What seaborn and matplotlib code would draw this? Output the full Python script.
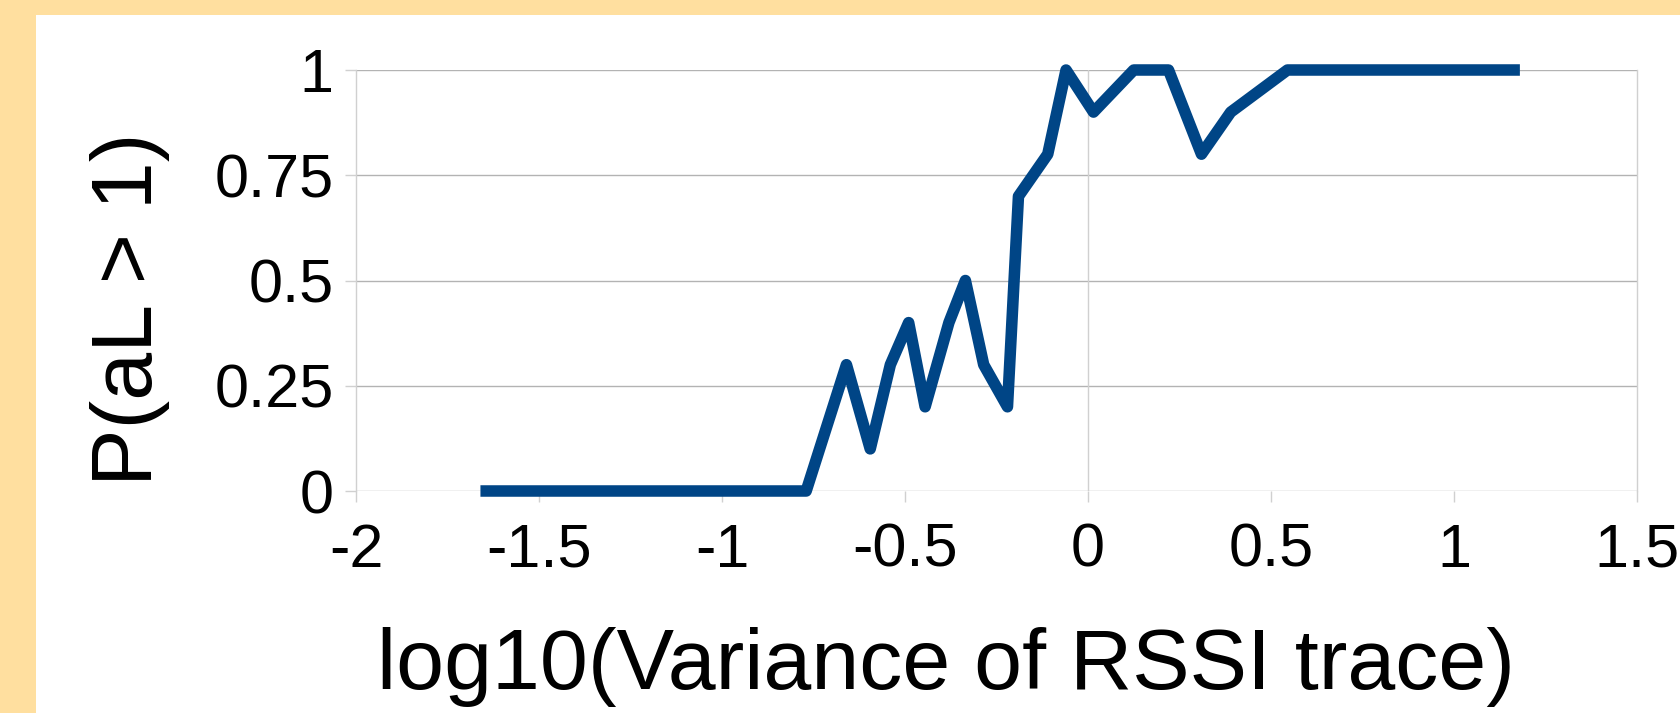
import matplotlib as mpl
mpl.use("Agg")
import matplotlib.pyplot as plt
import seaborn as sns
import pandas as pd
from matplotlib.patches import Rectangle

# values
log_var = [-1.66, -0.77, -0.66, -0.595, -0.54, -0.49, -0.445, -0.38, -0.335,
           -0.285, -0.22, -0.19, -0.11, -0.06, 0.015, 0.125, 0.22, 0.31, 0.39,
           0.545, 1.18]
p_al = [0.0, 0.0, 0.3, 0.1, 0.3, 0.4, 0.2, 0.4, 0.5,
        0.3, 0.2, 0.7, 0.8, 1.0, 0.9, 1.0, 1.0, 0.8, 0.9,
        1.0, 1.0]
xticks = [-2, -1.5, -1, -0.5, 0, 0.5, 1, 1.5]
yticks = [0, 0.25, 0.5, 0.75, 1]
xtick_labels = ["-2", "-1.5", "-1", "-0.5", "0", "0.5", "1", "1.5"]
ytick_labels = ["0", "0.25", "0.5", "0.75", "1"]

sns.set_theme(style="white")
plt.rcParams["font.family"] = ["Liberation Sans", "DejaVu Sans"]
plt.rcParams["text.color"] = "black"

W, H = 1681, 713
fig = plt.figure(figsize=(W / 100, H / 100), dpi=100)
fig.patch.set_facecolor("#ffdf9f")
# white panel (orange strip only on left and top)
fig.add_artist(Rectangle((36 / W, 0), 1 - 36 / W, 1 - 15 / H,
                         transform=fig.transFigure, facecolor="white",
                         edgecolor="none", zorder=0))

ax = fig.add_axes([356 / W, 1 - 491 / H, (1637 - 356) / W, (491 - 70) / H])
ax.set_facecolor("none")

df = pd.DataFrame({"x": log_var, "y": p_al})

for yv in yticks:
    ax.axhline(yv, color="#b3b3b3", lw=1.0, zorder=1)
ax.axvline(0, color="#d0d0d0", lw=1.0, zorder=1)

sns.lineplot(data=df, x="x", y="y", ax=ax, color="#004586",
             estimator=None, sort=False, zorder=3)
line = ax.lines[-1]
line.set_linewidth(8.3)
line.set_solid_capstyle("butt")
line.set_solid_joinstyle("round")
line.set_clip_on(False)

ax.set_xlim(-2, 1.5)
ax.set_ylim(0, 1)
ax.set_xticks(xticks)
ax.set_xticklabels(xtick_labels)
ax.set_yticks(yticks)
ax.set_yticklabels(ytick_labels)
ax.set_xlabel("")
ax.set_ylabel("")

for side in ["top", "bottom"]:
    ax.spines[side].set_visible(False)
for side in ["left", "right"]:
    ax.spines[side].set_color("#d0d0d0")
    ax.spines[side].set_linewidth(1.0)

ax.tick_params(axis="x", length=8, width=1, color="#d0d0d0", pad=15,
               labelsize=44, labelcolor="black", direction="out", bottom=True)
ax.tick_params(axis="y", length=8, width=1, color="#d0d0d0", pad=8,
               labelsize=44, labelcolor="black", direction="out", left=True)
ax.grid(False)

fig.text(946.5 / W, 1 - 689 / H, "log10(Variance of RSSI trace)",
         fontsize=62, color="black", ha="center", va="baseline")
fig.text(152 / W, 1 - 309 / H, "P(aL > 1)", fontsize=62, color="black",
         rotation=90, rotation_mode="anchor", ha="center", va="baseline")

fig.savefig("out.png", dpi=100, facecolor=fig.get_facecolor())
